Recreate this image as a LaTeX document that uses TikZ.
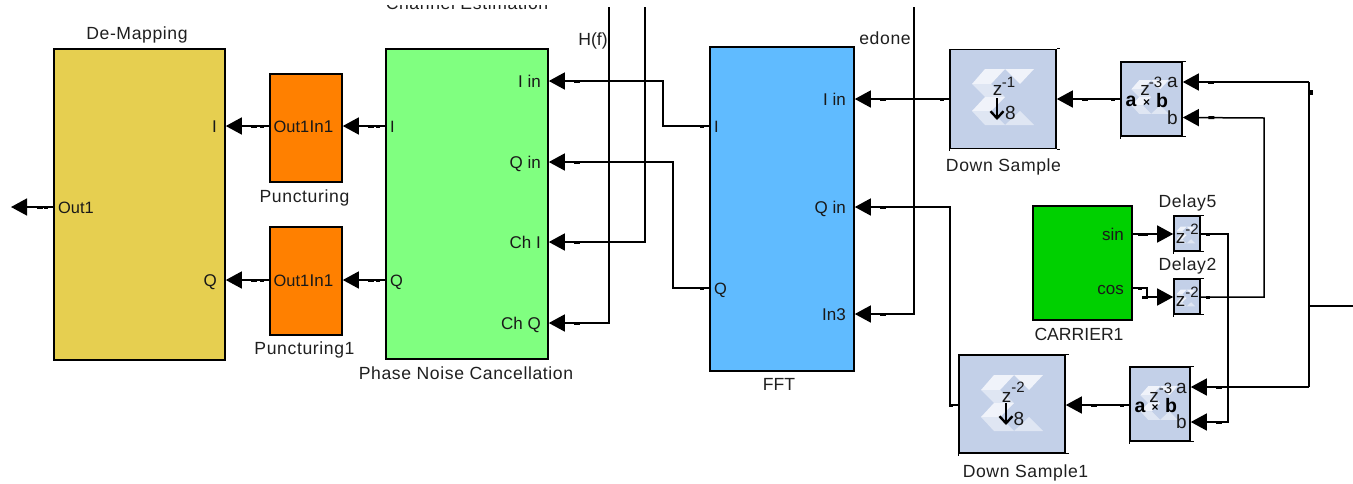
\documentclass[tikz,border=0pt]{standalone}
\usepackage{fontspec}
\setmainfont{Liberation Sans}
\newfontfamily\lblfont[LetterSpace=3.5]{Liberation Sans}
\usetikzlibrary{arrows.meta,decorations.markings,calc}
\tikzset{
  block/.style={draw=black,line width=1.6pt,inner sep=0pt,rectangle},
  xblock/.style={block,fill=xblue},
  txt/.style={inner sep=0pt,anchor=base,font=\lblfont\fontsize{17.6}{20}\selectfont,text=black!88},
  captxt/.style={inner sep=0pt,anchor=base,font=\fontsize{17.6}{20}\selectfont,text=black!88},
  portw/.style={inner sep=0pt,anchor=west,text height=12pt,text depth=0pt,font=\fontsize{16.4}{18}\selectfont,text=black!90},
  porte/.style={inner sep=0pt,anchor=east,text height=12pt,text depth=0pt,font=\fontsize{17}{18}\selectfont,text=black!90},
  glyph/.style={inner sep=0pt,font=\fontsize{19}{20}\selectfont,text=black!90},
  sup/.style={inner sep=0pt,font=\fontsize{15}{16}\selectfont,text=black!90},
  boldtxt/.style={inner sep=0pt,font=\fontsize{19.5}{20}\selectfont\bfseries,text=black},
  timesglyph/.style={inner sep=0pt,font=\fontsize{12}{12}\selectfont\bfseries,text=black},
  plainw/.style={line width=1.5pt,black},
  wirefree/.style={plainw,-{Triangle[length=16pt,width=17pt]},
    postaction={decorate,decoration={markings,
      mark=at position -0.5pt with {\fill[black] (-31pt,-1.5pt) rectangle (-25pt,1.5pt);}}}},
  wire/.style={plainw,-{Triangle[length=16pt,width=17pt]},
    postaction={decorate,decoration={markings,
      mark=at position 0.5pt with {\fill[black] (5pt,-1.5pt) rectangle (9pt,1.5pt);},
      mark=at position -0.5pt with {\fill[black] (-31pt,-1.5pt) rectangle (-25pt,1.5pt);}}}},
  downarrow/.style={line width=2.4pt,black,-{Straight Barb[length=7pt,width=13pt]}},
  tick/.style={line width=1.2pt,black},
  logoA/.style={fill=xpale},
  logoB/.style={fill=xpaleb}
}
\definecolor{xblue}{HTML}{C3D0E8}
\definecolor{xpale}{HTML}{F0F3FA}
\definecolor{xpaleb}{HTML}{DFE6F3}
\definecolor{demap}{HTML}{E6CF50}
\definecolor{punct}{HTML}{FF8000}
\definecolor{pnc}{HTML}{80FF80}
\definecolor{fftc}{HTML}{60BBFF}
\definecolor{carr}{HTML}{00D000}
\newcommand{\xlogo}[3]{\begin{scope}[shift={(#1,#2)},scale=#3]
  \path[logoA] (-18,-28)--(2,-28)--(-12,-13)--(-31,-13)--cycle;
  \path[logoB] (-31,-13)--(-12,-13)--(2,0)--(-18,0)--cycle;
  \path[logoA] (2,-28)--(31,-28)--(17,-13)--cycle;
  \path[logoA] (-18,0)--(2,0)--(-12,14)--(-31,14)--cycle;
  \path[logoB] (-31,14)--(-12,14)--(2,28)--(-18,28)--cycle;
  \path[logoB] (2,28)--(31,28)--(17,14)--cycle;
\end{scope}}
\newcommand{\cornerticks}[1]{%
  \draw[tick] (#1.north east) -- ++(3,0);
  \draw[tick] (#1.south east) -- ++(3,0);
  \draw[tick] (#1.south west) -- ++(0,2);}
\begin{document}
\begin{tikzpicture}[x=1pt,y=-1pt]
\useasboundingbox (0,0) rectangle (1353,483);
% clipped title at the top
\begin{scope}
  \clip (300,5) rectangle (700,20);
  \node[txt] (chest) at (467,9) {Channel Estimation};
\end{scope}
% main blocks
\node[block,fill=demap,minimum width=171pt,minimum height=311pt] (de) at (139.5,204.5) {};
\node[block,fill=punct,minimum width=72pt,minimum height=108pt] (pu) at (306,128) {};
\node[block,fill=punct,minimum width=72pt,minimum height=108pt] (puu) at (306,281) {};
\node[block,fill=pnc,minimum width=162pt,minimum height=310pt] (ph) at (467,204) {};
\node[block,fill=fftc,minimum width=144pt,minimum height=324pt] (fft) at (782,209) {};
\node[block,fill=carr,minimum width=99pt,minimum height=114pt] (car) at (1082.5,263) {};
\node[xblock,minimum width=106pt,minimum height=99pt] (ds) at (1003,99) {};
\node[xblock,minimum width=106pt,minimum height=98pt] (dsb) at (1012,404) {};
\node[xblock,minimum width=61pt,minimum height=74pt] (mu) at (1151.5,99) {};
\node[xblock,minimum width=60pt,minimum height=74pt] (mub) at (1160,404) {};
\node[xblock,minimum width=26pt,minimum height=35pt] (dla) at (1187,233.5) {};
\node[xblock,minimum width=26pt,minimum height=35pt] (dlb) at (1187,296.5) {};
\cornerticks{ds}\cornerticks{dsb}\cornerticks{mu}\cornerticks{mub}\cornerticks{dla}\cornerticks{dlb}
\xlogo{1003}{97}{1}
\xlogo{1012}{403}{1}
\xlogo{1150}{97}{0.6}
\xlogo{1159}{403}{0.6}
\xlogo{1186}{235}{0.3}
\xlogo{1186}{298}{0.3}
% block names
\node[txt] (tde) at (137,39) {De-Mapping};
\node[txt] (tpu) at (304.5,202) {Puncturing};
\node[txt] (tpuu) at (304.5,354) {Puncturing1};
\node[txt] (tph) at (466,379) {Phase Noise Cancellation};
\node[captxt] (tfft) at (779,390) {FFT};
\node[txt] (tds) at (1003.5,171) {Down Sample};
\node[txt] (tdsb) at (1025.5,477) {Down Sample1};
\node[captxt] (tcar) at (1079,340) {CARRIER1};
\node[txt] (tdla) at (1187.5,207) {Delay5};
\node[txt] (tdlb) at (1187.5,270) {Delay2};
\node[captxt] (thf) at (593,45) {H(f)};
\node[txt] (ted) at (885,44) {edone};
% port labels
\node[portw] (deO) at (58,207) {Out1};
\node[porte] (deI) at (217,126) {I};
\node[porte] (deQ) at (217,280) {Q};
\node[portw] (puO) at (273.5,126) {Out1};
\node[porte] (puI) at (333.5,126) {In1};
\node[portw] (puuO) at (273.5,280) {Out1};
\node[porte] (puuI) at (333.5,280) {In1};
\node[portw] (phI) at (390,126) {I};
\node[portw] (phQ) at (390,280) {Q};
\node[porte] (phIi) at (541,81) {I in};
\node[porte] (phQi) at (541,162) {Q in};
\node[porte] (phCi) at (541,242) {Ch I};
\node[porte] (phCq) at (541,323) {Ch Q};
\node[portw] (fftI) at (714,126) {I};
\node[portw] (fftQ) at (714,288) {Q};
\node[porte] (fftIi) at (846,99) {I in};
\node[porte] (fftQi) at (846,207) {Q in};
\node[porte] (fftIn) at (846,314) {In3};
\node[porte] (carS) at (1124,234) {sin};
\node[porte] (carC) at (1124,288) {cos};
\node[glyph] (muA) at (1172.5,82) {a};
\node[glyph] (muB) at (1172.5,117.5) {b};
\node[glyph] (mubA) at (1181.5,388) {a};
\node[glyph] (mubB) at (1181.5,422) {b};
% block glyphs
\node[glyph] (zds) at (997.5,90.5) {z};
\node[sup] (zdse) at (1008.5,82.5) {-1};
\node[glyph] (eds) at (1010.5,112.5) {8};
\draw[downarrow] (997,98) -- (997,120);
\node[glyph] (zdsb) at (1006.5,397) {z};
\node[sup] (zdsbe) at (1018,387) {-2};
\node[glyph] (edsb) at (1019,419) {8};
\draw[downarrow] (1006,403) -- (1006,425);
\node[glyph] (zmu) at (1145,90.5) {z};
\node[sup] (zmue) at (1155.5,82.5) {-3};
\node[boldtxt] (amu) at (1131,101.5) {a};
\node[boldtxt] (bmu) at (1162,100.5) {b};
\node[timesglyph] (xmu) at (1146.5,103) {×};
\node[glyph] (zmub) at (1154,397) {z};
\node[sup] (zmube) at (1165.5,388) {-3};
\node[boldtxt] (amub) at (1140,407) {a};
\node[boldtxt] (bmub) at (1171,405.5) {b};
\node[timesglyph] (xmub) at (1155,408) {×};
\node[glyph] (zda) at (1180.5,238) {z};
\node[sup] (zdae) at (1192,229) {-2};
\node[glyph] (zdb) at (1180.5,301.5) {z};
\node[sup] (zdbe) at (1192,292.5) {-2};
% free ends and junctions
\coordinate (top1) at (609,7);
\coordinate (top2) at (645,7);
\coordinate (top3) at (914,7);
\coordinate (busT) at (1309,82);
\coordinate (busB) at (1309,387);
\coordinate (busJ) at (1309,306);
\coordinate (rightEnd) at (1353,306);
\coordinate (outEnd) at (11,207);
\coordinate (lowRow) at (0,405);
\coordinate (dlbRow) at (0,297);
\node[fill=black,inner sep=0pt,minimum width=4pt,minimum height=5pt] (mk) at (1311,92) {};
% connectors
\draw[wire] (ph.west |- phI) -- (pu.east |- puI);
\draw[wire] (ph.west |- phQ) -- (puu.east |- puuI);
\draw[wire] (pu.west |- puO) -- (de.east |- deI);
\draw[wire] (puu.west |- puuO) -- (de.east |- deQ);
\draw[wire] (de.west |- deO) -- (outEnd);
\draw[wire] (fft.west |- fftI) -- (663,126) -- (663,81) -- (ph.east |- phIi);
\draw[wire] (fft.west |- fftQ) -- (673,288) -- (673,162) -- (ph.east |- phQi);
\draw[wirefree] (top2) -- (top2 |- phCi) -- (ph.east |- phCi);
\draw[wirefree] (top1) -- (top1 |- phCq) -- (ph.east |- phCq);
\draw[wirefree] (top3) -- (top3 |- fftIn) -- (fft.east |- fftIn);
\draw[wire] (ds.west) -- (fft.east |- ds.west);
\draw[wire] (dsb.west |- lowRow) -- (950,405) -- (950,207) -- (fft.east |- fftQi);
\draw[wire] (mu.west) -- (ds.east |- mu.west);
\draw[wire] (mub.west |- lowRow) -- (dsb.east |- lowRow);
\draw[wire] (car.east |- carS) -- (dla.west |- carS);
\draw[wire] (car.east |- carC) -- (1147,288) -- (1147,297) -- (dlb.west |- dlbRow);
\draw[wire] (dla.east |- carS) -- (1228,234) -- (1228,422) -- (mub.east |- mubB);
\draw[wire] (dlb.east |- dlbRow) -- (1264,297) -- (1264,118) -- (mu.east |- muB);
\draw[wirefree] (busT) -- (mu.east |- busT);
\draw[wirefree] (busB) -- (mub.east |- busB);
\draw[plainw] (busT) -- (busB);
\draw[plainw] (rightEnd) -- (busJ);
\end{tikzpicture}
\end{document}
